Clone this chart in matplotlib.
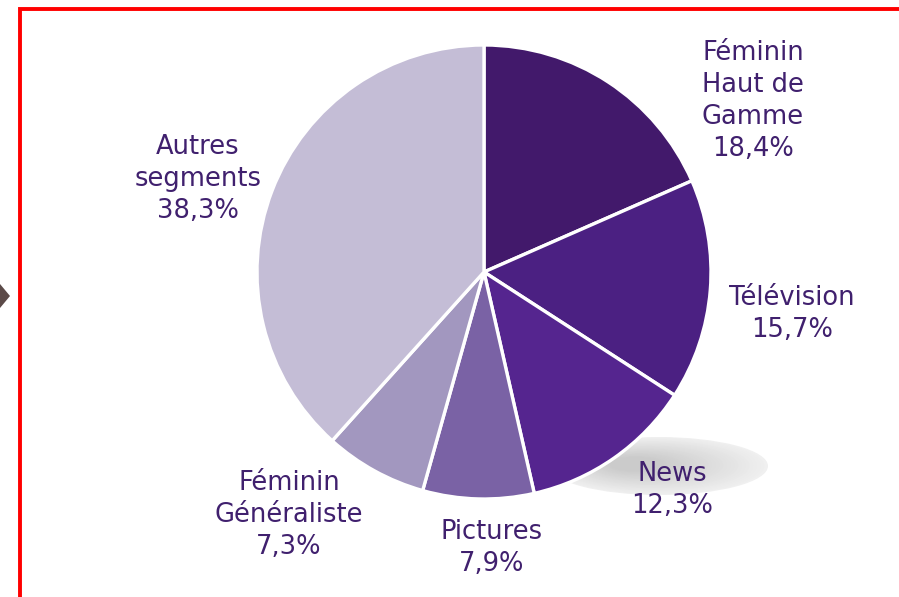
import matplotlib
matplotlib.use("Agg")
import matplotlib.pyplot as plt
from matplotlib.patches import Ellipse, Polygon, Rectangle
import numpy as np

# ---- data ----
categories = ["Féminin\nHaut de\nGamme", "Télévision", "News", "Pictures",
              "Féminin\nGénéraliste", "Autres\nsegments"]
values = [18.4, 15.7, 12.3, 7.9, 7.3, 38.3]
value_labels = ["18,4%", "15,7%", "12,3%", "7,9%", "7,3%", "38,3%"]
colors = ["#42196B", "#4B2082", "#55258F", "#7A62A5", "#A297BF", "#C4BDD6"]

W, H = 899, 597
TEXT = "#40206E"

fig = plt.figure(figsize=(W / 100, H / 100), dpi=100)
ax = fig.add_axes([0, 0, 1, 1])
ax.set_xlim(0, W)
ax.set_ylim(0, H)
ax.axis("off")

def Y(y):
    return H - y

# red frame (left + top)
ax.add_patch(Rectangle((20, Y(9) - 2000), 2000, 2000, fill=False,
                       edgecolor="#FF0000", linewidth=2.8, zorder=1))

# left arrow marker
ax.add_patch(Polygon([(0, Y(284)), (10, Y(296)), (0, Y(308))], closed=True,
                     facecolor="#5B4A48", edgecolor="none", zorder=1))

# soft shadow ellipse behind the News label
cx, cy, ew, eh = 659, Y(466), 218, 58
n = 30
for i in range(n):
    t = i / n
    s = 1 - t * 0.8
    g = 0.94 - 0.15 * t
    ax.add_patch(Ellipse((cx - 25 * t, cy + 2 * t), ew * s, eh * s,
                         facecolor=(g, g, g), edgecolor="none", zorder=2))

# pie
wedges, _ = ax.pie(values, colors=colors, startangle=90, counterclock=False,
                   center=(484, Y(272)), radius=227, frame=True,
                   wedgeprops=dict(edgecolor="white", linewidth=2.4))
for w in wedges:
    w.set_zorder(3)
ax.set_xlim(0, W)
ax.set_ylim(0, H)
ax.set_aspect("auto")
ax.axis("off")

# labels
label_pos = [(753, 101), (792, 314), (672, 490), (492, 548), (289, 515), (198, 179)]
for cat, vl, (lx, ly) in zip(categories, value_labels, label_pos):
    ax.text(lx, Y(ly), f"{cat}\n{vl}", ha="center", va="center",
            fontsize=18.5, color=TEXT, family="DejaVu Sans",
            linespacing=1.29, zorder=5)

fig.savefig("out.png", dpi=100)
